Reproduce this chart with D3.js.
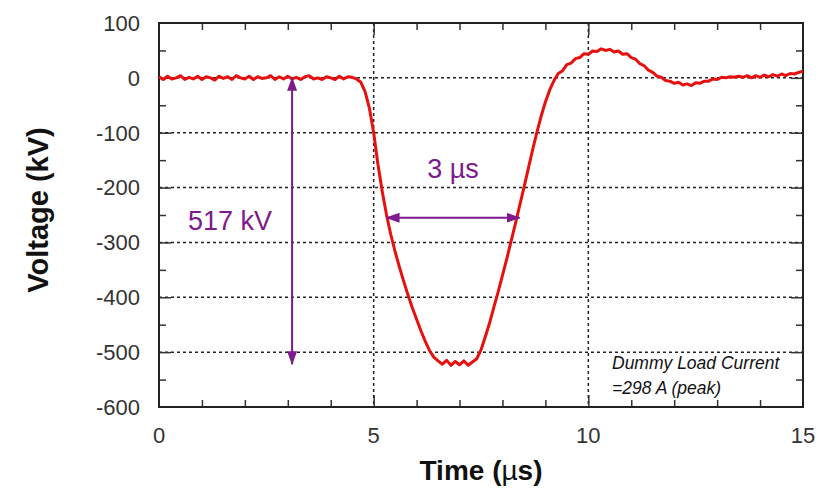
<!DOCTYPE html>
<html>
<head>
<meta charset="utf-8">
<script src="https://cdn.jsdelivr.net/npm/d3@7"></script>
<style>
  body { margin: 0; background: #fff; }
</style>
</head>
<body>
<div id="chart"></div>
<script>
// sampled trace, 0 to 15 us every 0.1 us (kV)
var voltageKv = [
  2,-3,3,-2,0,4,-3,1,-2,3,
  -3,2,0,-4,3,-1,2,-3,4,0,
  -2,3,-3,2,-1,0,4,-3,2,-2,
  3,-2,1,-3,2,4,-2,0,-3,2,
  0,-3,3,-2,2,1,-2,-8,-25,-55,
  -100,-158,-207,-250,-286,-317,-345,-371,-396,-419,
  -440,-461,-480,-497,-509,-516,-522,-515,-524,-517,
  -523,-516,-524,-518,-512,-496,-472,-447,-418,-390,
  -360,-330,-298,-266,-233,-200,-166,-132,-100,-70,
  -44,-22,-5,8,13,24,27,35,37,44,
  43,49,48,53,50,52,47,49,43,44,
  37,34,26,22,14,10,3,1,-5,-6,
  -10,-8,-13,-11,-14,-9,-10,-6,-6,-2,
  -3,1,0,2,1,3,1,4,0,4,
  1,5,2,6,3,7,4,8,7,10,
  12
];
var timeUs = d3.range(voltageKv.length).map(function(i){ return i / 10; });

var xTicks = [0, 5, 10, 15];
var yTicks = [100, 0, -100, -200, -300, -400, -500, -600];
var xGrid = [5, 10];
var yGrid = [0, -100, -200, -300, -400, -500];

// annotations
var peakArrow = {t: 3.1, from: 0, to: -522, label: "517 kV"};
var widthArrow = {v: -255, from: 5.3, to: 8.4, label: "3 \u00b5s"};
var noteLines = ["Dummy Load Current", "=298 A (peak)"];

var margin = {top: 23, right: 31, bottom: 87, left: 159},
    width = 834 - margin.left - margin.right,
    height = 494 - margin.top - margin.bottom;

var purple = "#7e1a8c";
var font = "Liberation Sans, Arial, sans-serif";

var svg = d3.select("#chart")
  .append("svg")
    .attr("width", 834)
    .attr("height", 494)
  .append("g")
    .attr("transform", "translate(" + margin.left + "," + margin.top + ")");

var x = d3.scaleLinear().domain([0, 15]).range([0, width]);
var y = d3.scaleLinear().domain([-600, 100]).range([height, 0]);

// dotted grid
svg.selectAll(".hgrid")
  .data(yGrid)
  .enter()
  .append("line")
    .attr("x1", 0).attr("x2", width)
    .attr("y1", d => y(d)).attr("y2", d => y(d))
    .style("stroke", "#222")
    .style("stroke-width", 1.5)
    .style("stroke-dasharray", "3,3");

svg.selectAll(".vgrid")
  .data(xGrid)
  .enter()
  .append("line")
    .attr("x1", d => x(d)).attr("x2", d => x(d))
    .attr("y1", 0).attr("y2", height)
    .style("stroke", "#222")
    .style("stroke-width", 1.5)
    .style("stroke-dasharray", "3,3");

// inward ticks on all four sides
function tickAxis(axis, major, minor, transform) {
  var g = svg.append("g").attr("transform", transform || null);
  g.call(axis.tickValues(minor).tickSize(-7).tickFormat(""));
  g.select(".domain").remove();
  g.selectAll("line").style("stroke", "#333").style("stroke-width", 1.5);
  var g2 = svg.append("g").attr("transform", transform || null);
  g2.call(axis.tickValues(major).tickSize(-12).tickFormat(""));
  g2.select(".domain").remove();
  g2.selectAll("line").style("stroke", "#333").style("stroke-width", 1.5);
}
var xMinor = d3.range(1, 15).filter(d => d % 5 != 0);
var yMinor = d3.range(-550, 100, 100);
tickAxis(d3.axisBottom(x), [5, 10], xMinor, "translate(0," + height + ")");
tickAxis(d3.axisTop(x), [5, 10], xMinor);
tickAxis(d3.axisLeft(y), yGrid, yMinor);
tickAxis(d3.axisRight(y), yGrid, yMinor, "translate(" + width + ",0)");

// frame
svg.append("rect")
  .attr("width", width)
  .attr("height", height)
  .style("fill", "none")
  .style("stroke", "#222")
  .style("stroke-width", 2);

// tick labels
svg.selectAll(".ylab")
  .data(yTicks)
  .enter()
  .append("text")
    .attr("x", -19)
    .attr("y", d => y(d))
    .attr("dy", "0.36em")
    .attr("text-anchor", "end")
    .style("font-family", font)
    .style("font-size", "22px")
    .style("fill", "#333")
    .text(d => d);

svg.selectAll(".xlab")
  .data(xTicks)
  .enter()
  .append("text")
    .attr("x", d => x(d))
    .attr("y", height + 36)
    .attr("text-anchor", "middle")
    .style("font-family", font)
    .style("font-size", "22px")
    .style("fill", "#333")
    .text(d => d);

// axis titles
svg.append("text")
  .attr("transform", "translate(" + (48 - margin.left) + "," + (210 - margin.top) + ") rotate(-90)")
  .attr("text-anchor", "middle")
  .style("font-family", font)
  .style("font-size", "29px")
  .style("font-weight", "bold")
  .style("fill", "#111")
  .text("Voltage (kV)");

var tt = svg.append("text")
  .attr("x", 481 - margin.left)
  .attr("y", 480 - margin.top)
  .attr("text-anchor", "middle")
  .style("font-family", font)
  .style("font-size", "28px")
  .style("font-weight", "bold")
  .style("fill", "#111");
tt.append("tspan").text("Time (");
tt.append("tspan").style("font-weight", "normal").text("\u00b5");
tt.append("tspan").text("s)");

// trace
var line = d3.line()
  .x((d, i) => x(timeUs[i]))
  .y(d => y(d));

svg.append("path")
  .datum(voltageKv)
  .attr("d", line)
  .style("fill", "none")
  .style("stroke", "#e8100f")
  .style("stroke-width", 3)
  .style("stroke-linejoin", "round");

// arrow markers
var defs = svg.append("defs");
defs.append("marker")
    .attr("id", "head")
    .attr("viewBox", "0 0 14 10")
    .attr("refX", 13).attr("refY", 5)
    .attr("markerWidth", 14).attr("markerHeight", 10)
    .attr("markerUnits", "userSpaceOnUse")
    .attr("orient", "auto-start-reverse")
  .append("path")
    .attr("d", "M0,0 L14,5 L0,10 Z")
    .style("fill", purple);

svg.append("line")
  .attr("x1", x(peakArrow.t)).attr("x2", x(peakArrow.t))
  .attr("y1", y(peakArrow.from)).attr("y2", y(peakArrow.to))
  .style("stroke", purple)
  .style("stroke-width", 2)
  .attr("marker-start", "url(#head)")
  .attr("marker-end", "url(#head)");

svg.append("line")
  .attr("x1", x(widthArrow.from)).attr("x2", x(widthArrow.to))
  .attr("y1", y(widthArrow.v)).attr("y2", y(widthArrow.v))
  .style("stroke", purple)
  .style("stroke-width", 2)
  .attr("marker-start", "url(#head)")
  .attr("marker-end", "url(#head)");

svg.append("text")
  .attr("x", 188 - margin.left)
  .attr("y", 230 - margin.top)
  .style("font-family", font)
  .style("font-size", "27px")
  .style("fill", purple)
  .text(peakArrow.label);

svg.append("text")
  .attr("x", x((widthArrow.from + widthArrow.to) / 2))
  .attr("y", 178 - margin.top)
  .attr("text-anchor", "middle")
  .style("font-family", font)
  .style("font-size", "27px")
  .style("fill", purple)
  .text(widthArrow.label);

// note
svg.selectAll(".note")
  .data(noteLines)
  .enter()
  .append("text")
    .attr("x", 612 - margin.left)
    .attr("y", (d, i) => 369 - margin.top + i * 25)
    .style("font-family", font)
    .style("font-size", "17.5px")
    .style("font-style", "italic")
    .style("fill", "#111")
    .text(d => d);
</script>
</body>
</html>
